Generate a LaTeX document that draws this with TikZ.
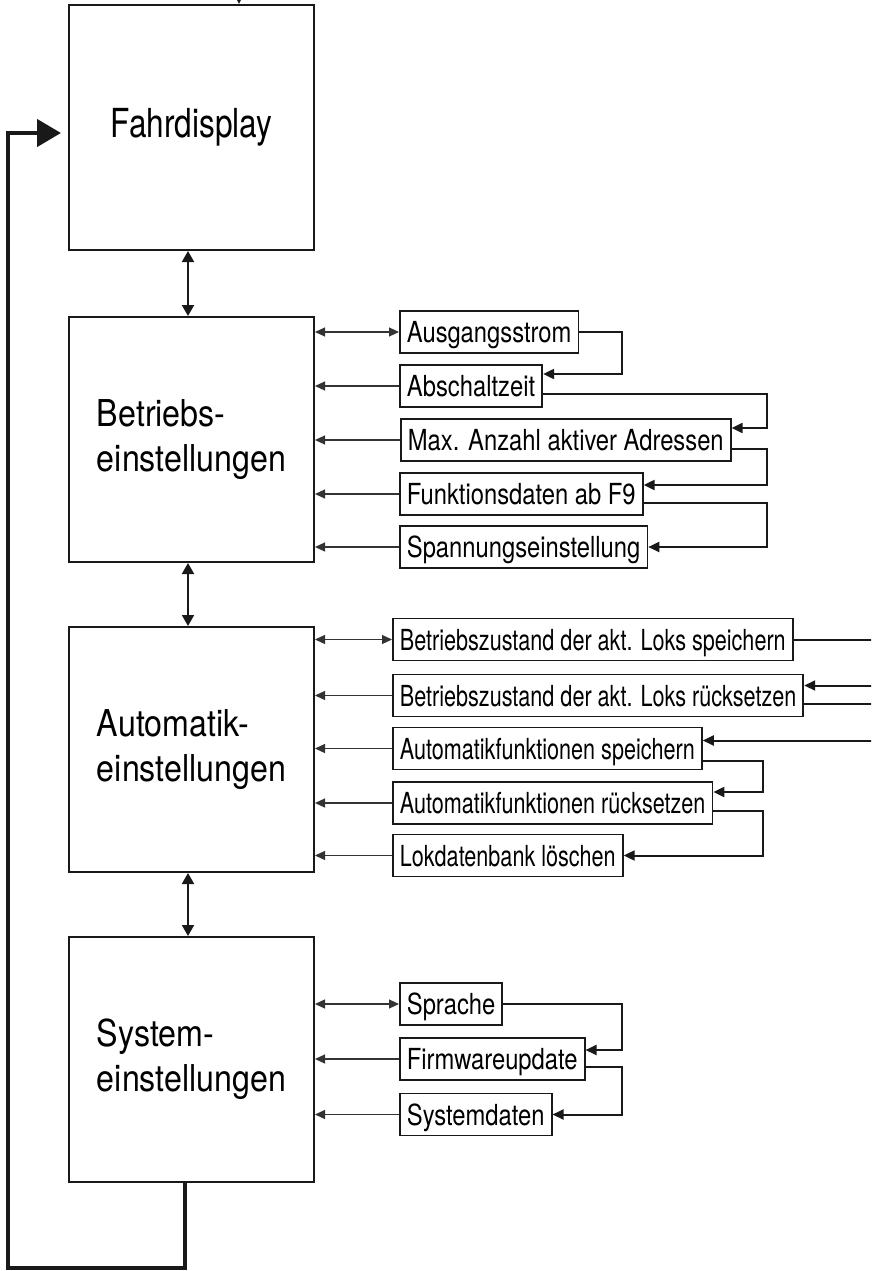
\documentclass[tikz,border=0pt]{standalone}
\usepackage{fontspec}
\setmainfont{TeX Gyre Heros}
\newfontfamily\boxfont[FakeStretch=0.87]{TeX Gyre Heros}
\newfontfamily\fahrfont[FakeStretch=0.79]{TeX Gyre Heros}
\newfontfamily\itemfont[FakeStretch=0.82]{TeX Gyre Heros}
\newfontfamily\longfont[FakeStretch=0.745]{TeX Gyre Heros}
\usetikzlibrary{arrows.meta,calc}

\begin{document}
\begin{tikzpicture}[x=1pt,y=-1pt,
  bigbox/.style={draw=black!90,line width=2pt,minimum width=245pt,minimum height=245pt,
    align=left,font=\boxfont\fontsize{37}{45}\selectfont},
  item/.style={draw=black!90,line width=1.8pt,anchor=west,inner xsep=7pt,inner ysep=5.5pt,
    text height=26pt,text depth=5pt,font=\itemfont\fontsize{29}{29}\selectfont},
  longitem/.style={item,font=\longfont\fontsize{29}{29}\selectfont},
  tobox/.style={line width=1.1pt,draw=black!80,>={Triangle[length=10pt,width=9pt]}},
  chain/.style={line width=2pt,draw=black!90,->,>={Triangle[length=11pt,width=10pt]}},
  updown/.style={line width=2pt,draw=black!90,<->,>={Triangle[length=11pt,width=12pt]}},
  back/.style={line width=4.5pt,draw=black!90,->,>={Triangle[length=24pt,width=27pt]}}]
\useasboundingbox (0,0) rectangle (871,1271);
\clip (0,0) rectangle (871,1271);

\node[bigbox,font=\fahrfont\fontsize{40}{45}\selectfont] (fahr) at (191.5,127.5) {Fahrdisplay};
\node[bigbox] (betr) at (191.5,439.5) {Betriebs-\\einstellungen};
\node[bigbox] (auto) at (191.5,749.5) {Automatik-\\einstellungen};
\node[bigbox] (sys) at (191.5,1059.5) {System-\\einstellungen};

\node[item] (strom) at (399,332) {Ausgangsstrom};
\node[item] (abschalt) at (399,386) {Abschaltzeit};
\node[item] (adressen) at (400,440) {Max. Anzahl aktiver Adressen};
\node[item] (fdaten) at (399,494) {Funktionsdaten ab F9};
\node[item] (spannung) at (399,547) {Spannungseinstellung};

\node[longitem] (bzspeich) at (392,639.5) {Betriebszustand der akt. Loks speichern};
\node[longitem] (bzreset) at (392,695.5) {Betriebszustand der akt. Loks rücksetzen};
\node[longitem] (afspeich) at (392,748.5) {Automatikfunktionen speichern};
\node[longitem] (afreset) at (392,803) {Automatikfunktionen rücksetzen};
\node[longitem] (lokdb) at (392,855.5) {Lokdatenbank löschen};

\node[item] (sprache) at (399,1004) {Sprache};
\node[item] (firmware) at (399,1059) {Firmwareupdate};
\node[item] (sysdaten) at (399,1114.5) {Systemdaten};

\coordinate (xa) at (622,0);
\coordinate (xr) at (767,0);
\coordinate (xq) at (763,0);
\coordinate (xo) at (886,0);
\coordinate (corner) at (8,1268);
\coordinate (top) at (239,-40);

\draw[tobox,<->] (strom.west) -- (strom.west -| betr.east);
\foreach \n in {abschalt,adressen,fdaten,spannung}
  \draw[tobox,->] (\n.west) -- (\n.west -| betr.east);
\draw[tobox,<->] (bzspeich.west) -- (bzspeich.west -| auto.east);
\foreach \n in {bzreset,afspeich,afreset,lokdb}
  \draw[tobox,->] (\n.west) -- (\n.west -| auto.east);
\draw[tobox,<->] (sprache.west) -- (sprache.west -| sys.east);
\foreach \n in {firmware,sysdaten}
  \draw[tobox,->] (\n.west) -- (\n.west -| sys.east);

\draw[chain] (strom.east) -| ([yshift=12pt]abschalt.east -| xa) -- ([yshift=12pt]abschalt.east);
\draw[chain] ([yshift=-8pt]abschalt.east) -| ([yshift=12pt]adressen.east -| xr) -- ([yshift=12pt]adressen.east);
\draw[chain] ([yshift=-9pt]adressen.east) -| ([yshift=9pt]fdaten.east -| xr) -- ([yshift=9pt]fdaten.east);
\draw[chain] ([yshift=-9pt]fdaten.east) -| (spannung.east -| xr) -- (spannung.east);

\draw[chain] (bzspeich.east) -| ([yshift=10pt]bzreset.east -| xo) -- ([yshift=10pt]bzreset.east);
\draw[chain] ([yshift=-8pt]bzreset.east) -| ([yshift=8pt]afspeich.east -| xo) -- ([yshift=8pt]afspeich.east);
\draw[chain] ([yshift=-12pt]afspeich.east) -| ([yshift=11pt]afreset.east -| xq) -- ([yshift=11pt]afreset.east);
\draw[chain] ([yshift=-8pt]afreset.east) -| (lokdb.east -| xq) -- (lokdb.east);

\draw[chain] (sprache.east) -| ([yshift=9pt]firmware.east -| xa) -- ([yshift=9pt]firmware.east);
\draw[chain] ([yshift=-8pt]firmware.east) -| (sysdaten.east -| xa) -- (sysdaten.east);

\draw[updown] ([xshift=-3.5pt]fahr.south) -- ([xshift=-3.5pt]betr.north);
\draw[updown] ([xshift=-3.5pt]betr.south) -- ([xshift=-3.5pt]auto.north);
\draw[updown] ([xshift=-3.5pt]auto.south) -- ([xshift=-3.5pt]sys.north);

\draw[chain] (top) -- (top |- fahr.north);
\draw[back] ([xshift=-6.5pt]sys.south) |- (corner) |- ([xshift=-7pt,yshift=-5.5pt]fahr.west);
\end{tikzpicture}
\end{document}
